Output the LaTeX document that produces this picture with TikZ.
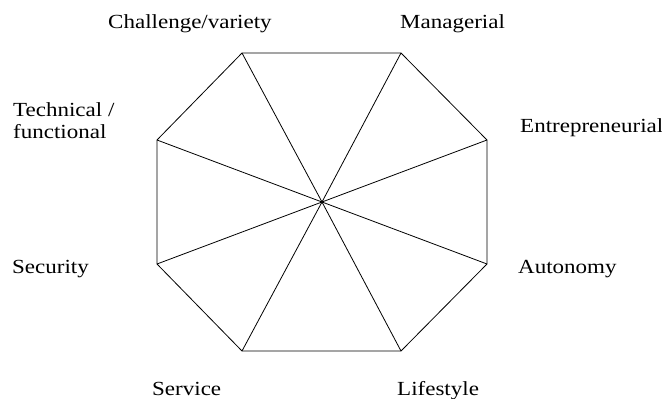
\documentclass[tikz,border=0pt]{standalone}
\usepackage{fontspec}
\setmainfont{Liberation Serif}
\usepackage{graphicx}
\usepackage{tikz}
\newcommand{\labelwide}[1]{\scalebox{1.15}[1]{#1}}

\begin{document}
\begin{tikzpicture}[
    x=1pt, y=-1pt,
    edge/.style={draw=black, line width=0.8pt, line join=miter},
    anchorlabel/.style={font=\fontsize{20}{22}\selectfont, inner sep=0pt, anchor=base west}
]
\useasboundingbox (0,0) rectangle (662,399);

% octagon corners and centre
\coordinate (centre) at (322,202);
\coordinate (challengecorner) at (242,53);
\coordinate (managercorner) at (401,53);
\coordinate (entrecorner) at (487,140);
\coordinate (autocorner) at (487,264);
\coordinate (lifecorner) at (401,351);
\coordinate (servicecorner) at (242,351);
\coordinate (securitycorner) at (157,264);
\coordinate (techcorner) at (157,140);

\draw[edge] (challengecorner) -- (managercorner) -- (entrecorner) -- (autocorner)
    -- (lifecorner) -- (servicecorner) -- (securitycorner) -- (techcorner) -- cycle;

\foreach \corner in {challengecorner,managercorner,entrecorner,autocorner,lifecorner,servicecorner,securitycorner,techcorner}
    \draw[edge] (centre) -- (\corner);

% anchor labels
\node[anchorlabel] (challenge) at (108,28) {\labelwide{Challenge/variety}};
\node[anchorlabel] (managerial) at (400,28) {\labelwide{Managerial}};
\node[anchorlabel, anchor=north west, align=left] (technical) at (13,102.5) {\labelwide{Technical /}\\\labelwide{functional}};
\node[anchorlabel] (entrepreneurial) at (520,132) {\labelwide{Entrepreneurial}};
\node[anchorlabel] (security) at (12,273) {\labelwide{Security}};
\node[anchorlabel] (autonomy) at (518,273) {\labelwide{Autonomy}};
\node[anchorlabel] (service) at (152,395) {\labelwide{Service}};
\node[anchorlabel] (lifestyle) at (397,395) {\labelwide{Lifestyle}};

\end{tikzpicture}
\end{document}
